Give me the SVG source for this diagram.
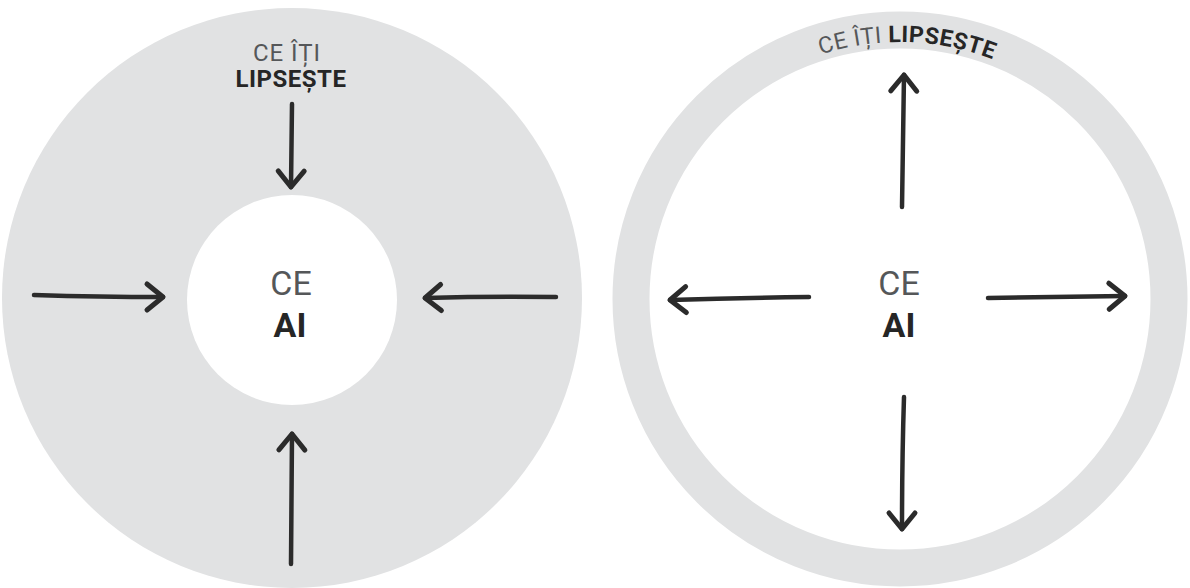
<svg xmlns="http://www.w3.org/2000/svg" width="1190" height="588" viewBox="0 0 1190 588">
<style>
.disc{fill:#e1e2e3}
.hole{fill:#ffffff}
.arrow{fill:none;stroke:#2b2b2b;stroke-width:4.5;stroke-linecap:round;stroke-linejoin:round}
.light{font-family:"Roboto","DejaVu Sans",sans-serif;fill:#555759;font-weight:400}
.bold{font-family:"Roboto","DejaVu Sans",sans-serif;fill:#262626;font-weight:700}
</style>
<defs>
<marker id="head" viewBox="-22 -18 26 36" markerWidth="26" markerHeight="36" refX="0" refY="0" orient="auto" markerUnits="userSpaceOnUse">
<path d="M-16,-13 L0,0 L-16,13" fill="none" stroke="#2b2b2b" stroke-width="5" stroke-linecap="round" stroke-linejoin="round"/>
</marker>
<path id="arc" d="M 643,299 A 257,257 0 0 1 1157,299"/>
</defs>
<g id="left-diagram">
<circle class="disc" cx="292" cy="298" r="290"/>
<circle class="hole" cx="292" cy="300" r="105"/>
<text class="light" x="287" y="61" font-size="24" text-anchor="middle" letter-spacing="1">CE ÎȚI</text>
<text class="bold" x="291" y="87" font-size="24" text-anchor="middle" letter-spacing="0.5">LIPSEȘTE</text>
<text class="light" x="291" y="295" font-size="34" text-anchor="middle">CE</text>
<text class="bold" x="290" y="337" font-size="34" text-anchor="middle">AI</text>
</g>
<g id="right-diagram">
<circle cx="900" cy="299" r="269" fill="none" stroke="#e1e2e3" stroke-width="37"/>
<text class="light" font-size="23"><textPath href="#arc" startOffset="50.9%" text-anchor="middle" letter-spacing="0.5">CE ÎȚI <tspan class="bold">LIPSEȘTE</tspan></textPath></text>
<text class="light" x="899" y="295" font-size="34" text-anchor="middle">CE</text>
<text class="bold" x="899" y="337" font-size="34" text-anchor="middle">AI</text>
</g>
<g id="connectors">
<path class="arrow" d="M292,104 L291,187" marker-end="url(#head)"/>
<path class="arrow" d="M34,295 Q100,297 163,297" marker-end="url(#head)"/>
<path class="arrow" d="M556,297 Q490,296 425,298" marker-end="url(#head)"/>
<path class="arrow" d="M291,564 L292,434" marker-end="url(#head)"/>
<path class="arrow" d="M902,207 L904,75" marker-end="url(#head)"/>
<path class="arrow" d="M809,297 Q740,298 670,300" marker-end="url(#head)"/>
<path class="arrow" d="M988,298 Q1055,297 1125,296" marker-end="url(#head)"/>
<path class="arrow" d="M904,397 Q902,460 902,529" marker-end="url(#head)"/>
</g>
</svg>
